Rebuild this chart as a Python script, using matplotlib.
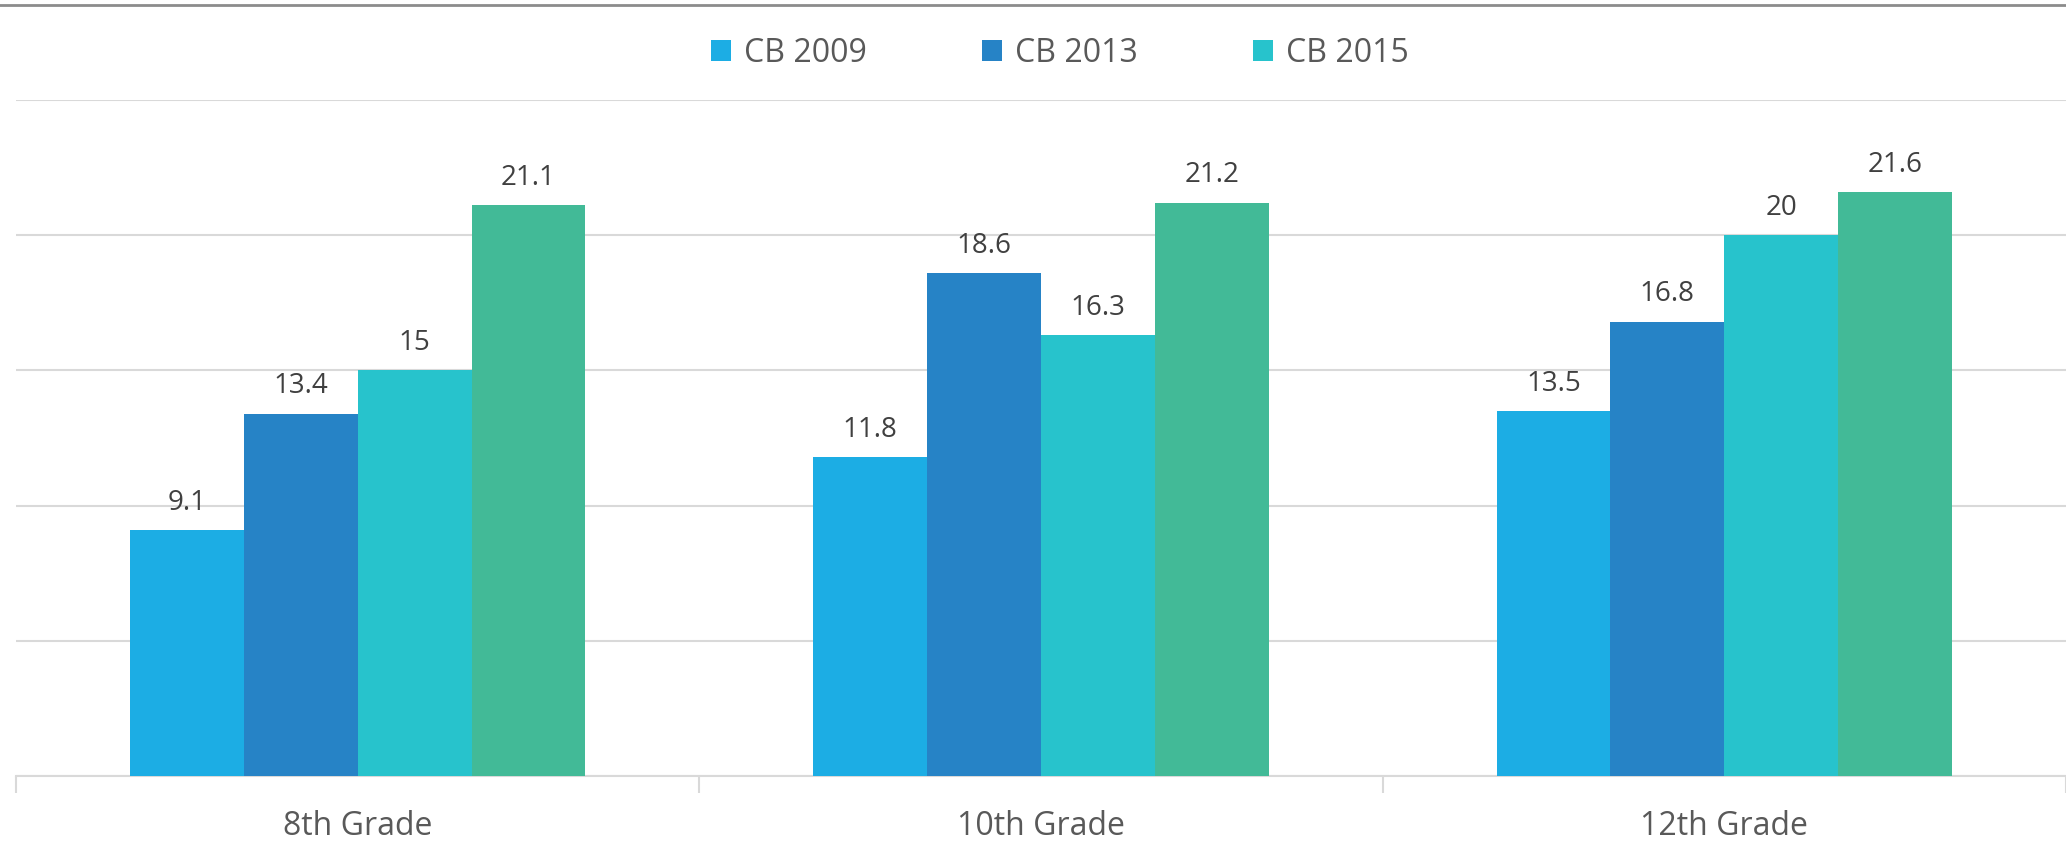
import matplotlib.pyplot as plt
from matplotlib.patches import Patch
from matplotlib.lines import Line2D
import numpy as np

# chart data
grades = ['8th Grade', '10th Grade', '12th Grade']
series_names = ['CB 2009', 'CB 2013', 'CB 2015', 'CB 2017']
cb2009 = [9.1, 11.8, 13.5]
cb2013 = [13.4, 18.6, 16.8]
cb2015 = [15, 16.3, 20]
cb2017 = [21.1, 21.2, 21.6]
colors = ['#1CADE4', '#2683C6', '#27C3CC', '#42BA97']

plt.rcParams['font.family'] = ['Open Sans', 'DejaVu Sans']

fig = plt.figure(figsize=(20.66, 8.43), dpi=100)
ax = fig.add_axes([16 / 2066, 1 - 776 / 843, 1 - 16 / 2066, (776 - 100) / 843])

x = np.arange(len(grades))
width = 0.1667
all_vals = [cb2009, cb2013, cb2015, cb2017]
for i, vals in enumerate(all_vals):
    pos = x + (i - 1.5) * width
    ax.bar(pos, vals, width, color=colors[i], zorder=3, linewidth=0)
    for p, v in zip(pos, vals):
        ax.text(p, v + 0.75, f'{v:g}', ha='center', va='baseline',
                fontsize=20, color='#404040')

ax.set_xlim(-0.5, len(grades) - 0.5)
ax.set_ylim(0, 25)
ax.set_yticks([0, 5, 10, 15, 20, 25])
ax.yaxis.grid(True, color='#D9D9D9', linewidth=1.5, zorder=0)
ax.tick_params(axis='y', left=False, labelleft=False)

# category separators as ticks
ax.set_xticks([-0.5, 0.5, 1.5, 2.5])
ax.set_xticklabels([])
ax.tick_params(axis='x', length=12, color='#D9D9D9', width=1.5)
for xi, g in zip(x, grades):
    ax.text(xi, -2.19, g, ha='center', va='baseline', fontsize=23, color='#595959',
            clip_on=False)

for s in ['top', 'right', 'left']:
    ax.spines[s].set_visible(False)
ax.spines['bottom'].set_color('#D9D9D9')
ax.spines['bottom'].set_linewidth(1.5)

# top border of chart frame
fig.add_artist(Line2D([0, 1], [1 - 5 / 843, 1 - 5 / 843], color='#8C8C8C', linewidth=2))

handles = [Patch(facecolor=colors[i], label=series_names[i]) for i in range(3)]
fig.legend(handles=handles, loc='center', bbox_to_anchor=(0.513, 1 - 53 / 843), ncol=3,
           frameon=False, fontsize=23, labelcolor='#595959', handlelength=0.63,
           handleheight=0.66, handletextpad=0.4, columnspacing=3.6)

fig.savefig('out.png', dpi=100, facecolor='white')
